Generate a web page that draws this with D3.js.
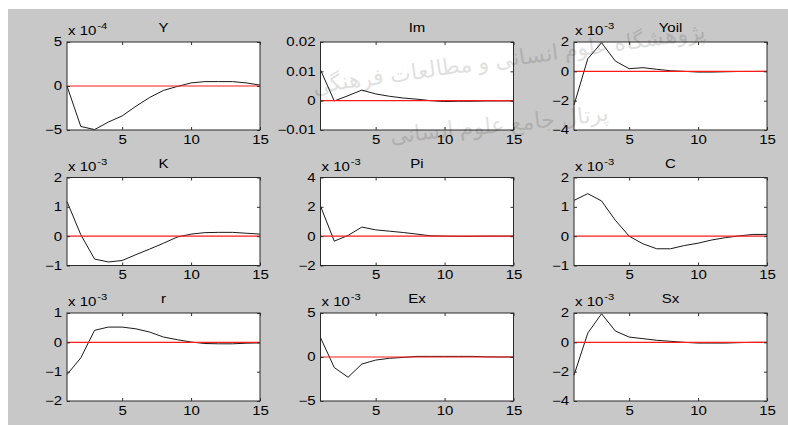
<!DOCTYPE html>
<html>
<head>
<meta charset="utf-8">
<script src="https://cdn.jsdelivr.net/npm/d3@7"></script>
<style>
body { margin: 0; background: #fff; }
svg { display: block; }
text { font-family: "Liberation Sans", Arial, sans-serif; fill: #000; }
</style>
</head>
<body>
<svg id="fig" width="788" height="425"></svg>
<script>
// impulse responses, periods 1..15 (values in units of the panel exponent)
const periods = d3.range(1, 16);
const Y    = [0, -4.6, -4.95, -4.1, -3.4, -2.3, -1.3, -0.5, -0.05, 0.35, 0.5, 0.5, 0.5, 0.35, 0.1];
const Im   = [0.0105, -0.0001, 0.0017, 0.0036, 0.0023, 0.0015, 0.0009, 0.0005, 0.0, -0.0003, -0.0002, -0.0002, -0.0001, -0.0001, -0.0001];
const Yoil = [-2.3, 0.86, 1.95, 0.7, 0.18, 0.25, 0.14, 0.04, 0.0, -0.05, -0.05, -0.03, -0.01, -0.01, 0.0];
const K    = [1.18, 0.05, -0.78, -0.88, -0.83, -0.63, -0.44, -0.24, -0.03, 0.07, 0.12, 0.13, 0.13, 0.1, 0.07];
const Pi   = [2.05, -0.34, 0.05, 0.62, 0.43, 0.34, 0.25, 0.14, 0.02, 0.0, -0.01, -0.01, 0.0, 0.0, 0.0];
const C    = [1.22, 1.45, 1.2, 0.54, 0.0, -0.26, -0.43, -0.43, -0.32, -0.24, -0.13, -0.05, 0.01, 0.06, 0.06];
const r    = [-1.1, -0.53, 0.41, 0.52, 0.52, 0.46, 0.35, 0.18, 0.09, 0.01, -0.04, -0.05, -0.05, -0.03, -0.02];
const Ex   = [2.2, -1.2, -2.3, -0.8, -0.35, -0.15, -0.05, 0.07, 0.07, 0.07, 0.07, 0.07, 0.02, 0.0, 0.0];
const Sx   = [-2.24, 0.63, 1.95, 0.77, 0.36, 0.25, 0.14, 0.07, 0.0, -0.05, -0.05, -0.05, -0.02, 0.0, 0.0];

const xTicks = [5, 10, 15];
const yTicksY    = [-5, 0, 5];
const yTicksIm   = [-0.01, 0, 0.01, 0.02];
const yTicksYoil = [-4, -2, 0, 2];
const yTicksK    = [-1, 0, 1, 2];
const yTicksPi   = [-2, 0, 2, 4];
const yTicksC    = [-1, 0, 1, 2];
const yTicksR    = [-2, -1, 0, 1];
const yTicksEx   = [-5, 0, 5];
const yTicksSx   = [-4, -2, 0, 2];

const titles    = ["Y", "Im", "Yoil", "K", "Pi", "C", "r", "Ex", "Sx"];
const exponents = ["-4", null, "-3", "-3", "-3", "-3", "-3", "-3", "-3"];
const series    = [Y, Im, Yoil, K, Pi, C, r, Ex, Sx];
const yTicks    = [yTicksY, yTicksIm, yTicksYoil, yTicksK, yTicksPi, yTicksC, yTicksR, yTicksEx, yTicksSx];

const svg = d3.select("#fig");
const SX = 1.25; // text in the picture is stretched horizontally

// figure background
svg.append("rect").attr("x", 8).attr("y", 9).attr("width", 780).attr("height", 416).attr("fill", "#c8c8c8");

const W = 193, H = 88;

function stretch(sel, x) {
    sel.attr("x", x / SX).attr("transform", "scale(" + SX + ",1)");
}

series.forEach((vals, i) => {
    const col = i % 3, row = Math.floor(i / 3);
    const left = 67 + col * 253.5, top = 42 + row * 135.5;
    const yt = yTicks[i];

    const x = d3.scaleLinear().domain([1, 15]).range([0, W]);
    const y = d3.scaleLinear().domain([yt[0], yt[yt.length - 1]]).range([H, 0]);

    const g = svg.append("g").attr("transform", `translate(${left},${top})`);
    g.append("rect").attr("width", W).attr("height", H).attr("fill", "#fff");

    const line = d3.line().x((d, j) => x(periods[j])).y(d => y(d));
    g.append("path").datum(vals).attr("d", line)
        .attr("fill", "none").attr("stroke", "#1a1a1a").attr("stroke-width", 1);

    g.append("line").attr("x1", 0).attr("x2", W).attr("y1", y(0)).attr("y2", y(0))
        .attr("stroke", "#ff1a1a").attr("stroke-width", 1.2);

    // axes with inward ticks on all sides
    const fmt = d => (i === 1 ? d3.format(".2f")(d).replace(/0$/, "") : d3.format("d")(d));
    const ya = g.append("g").call(d3.axisLeft(y).tickValues(yt).tickSize(-3).tickPadding(5)
        .tickFormat(d => d === 0 ? "0" : fmt(d)));
    const yr = g.append("g").attr("transform", `translate(${W},0)`)
        .call(d3.axisRight(y).tickValues(yt).tickSize(-3).tickFormat(""));
    const xa = g.append("g").attr("transform", `translate(0,${H})`)
        .call(d3.axisBottom(x).tickValues(xTicks).tickSize(-3).tickPadding(5).tickFormat(d3.format("d")));
    const xt = g.append("g").call(d3.axisTop(x).tickValues(xTicks).tickSize(-3).tickFormat(""));
    [ya, yr, xa, xt].forEach(a => {
        a.select(".domain").remove();
        a.selectAll("line").attr("stroke", "#333");
        a.selectAll("text").attr("font-size", 12).attr("fill", "#000")
            .style("font-family", '"Liberation Sans", Arial, sans-serif');
    });
    ya.selectAll("text").each(function () { stretch(d3.select(this), -5); });
    xa.selectAll("text").each(function () { stretch(d3.select(this), 0); });

    g.append("rect").attr("width", W).attr("height", H)
        .attr("fill", "none").attr("stroke", "#2b2b2b").attr("stroke-width", 1);

    // title
    const tt = g.append("text").attr("y", -10).attr("text-anchor", "middle")
        .attr("font-size", 12).text(titles[i]);
    stretch(tt, W / 2);

    // exponent label
    if (exponents[i]) {
        const base = g.append("text").attr("y", -7).attr("font-size", 12).text("x 10");
        stretch(base, 1);
        const wBase = base.node().getComputedTextLength() * SX;
        const sup = g.append("text").attr("y", -13).attr("font-size", 9).text(exponents[i]);
        stretch(sup, 1 + wBase + 1);
    }
});

// faint watermark over the figure
const wm = svg.append("g").attr("opacity", 0.12).style("font-family", "DejaVu Sans");
wm.append("text").attr("transform", "translate(510,66) rotate(-8)")
    .attr("text-anchor", "middle").attr("font-size", 22).attr("fill", "#555")
    .text("پژوهشگاه علوم انسانی و مطالعات فرهنگی");
wm.append("text").attr("transform", "translate(500,132) rotate(-6)")
    .attr("text-anchor", "middle").attr("font-size", 22).attr("fill", "#555")
    .text("پرتال جامع علوم انسانی");
</script>
</body>
</html>
